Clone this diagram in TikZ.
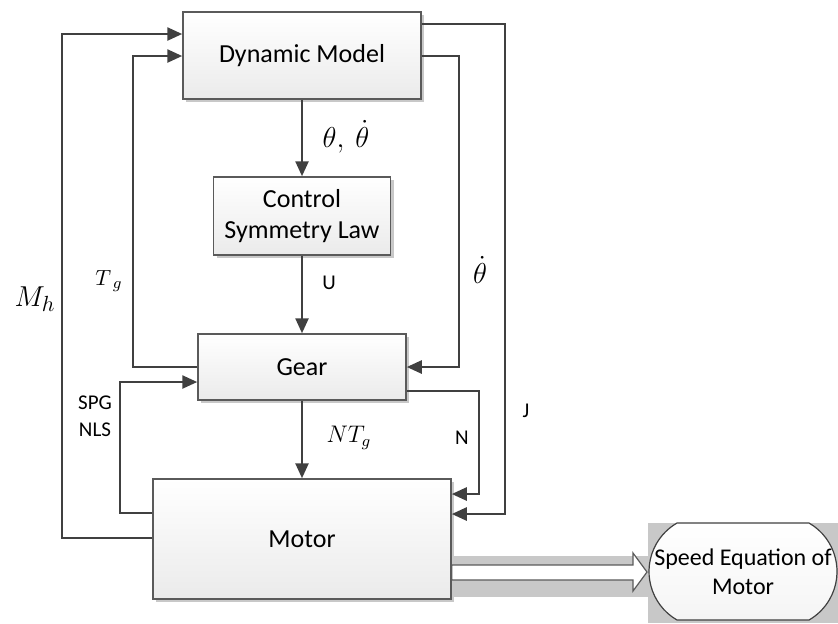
\documentclass[tikz,border=0pt]{standalone}
\usepackage{fontspec}
\setmainfont{Carlito}
\usetikzlibrary{arrows.meta,shadows,shapes.misc}

\definecolor{linegray}{HTML}{404040}
\definecolor{boxline}{HTML}{5A5A5A}
\definecolor{shadegray}{HTML}{C8C8C8}

\tikzset{
  block/.style={draw=boxline,line width=0.75pt,top color=white,bottom color=black!8,
    drop shadow={shadow xshift=1.5pt,shadow yshift=-1.5pt,fill=shadegray,opacity=1},
    inner sep=0pt,align=center,font=\fontsize{13}{15.5}\selectfont},
  flow/.style={draw=linegray,line width=1.25pt,-{Triangle[length=7.5pt,width=6.5pt]}},
  lbl/.style={font=\fontsize{10.5}{12.5}\selectfont,inner sep=0pt},
  mlbl/.style={font=\fontsize{14}{16}\selectfont,inner sep=1pt},
}

\begin{document}
\begin{tikzpicture}[x=0.5pt,y=-0.5pt]
  \useasboundingbox (0,0) rectangle (838,623);
  \node [block,minimum width=119pt,minimum height=43.5pt] (dm) at (302,55.5) {Dynamic Model};
  \node [block,minimum width=88.5pt,minimum height=39pt] (law) at (302,216) {Control\\Symmetry Law};
  \node [block,minimum width=104pt,minimum height=33pt] (gear) at (302,367) {Gear};
  \node [block,minimum width=149pt,minimum height=60pt] (motor) at (302,539) {Motor};

  \draw [flow] (dm) -- (law);
  \draw [flow] (law) -- (gear);
  \draw [flow] (gear) -- (motor);

  \draw [flow] (motor.west |- 0,538) -| (62,34) -- (dm.west |- 0,34);
  \draw [flow] (gear.west) -| (133,56) -- (dm.west |- 0,56);
  \draw [flow] (motor.west |- 0,513) -| (120,382) -- (gear.west |- 0,382);
  \draw [flow] (dm.east |- 0,56) -| (459,367) -- (gear.east);
  \draw [flow] (gear.east |- 0,391) -| (479,494) -- (motor.east |- 0,494);
  \draw [flow] (dm.east |- 0,24) -| (505,514) -- (motor.east |- 0,514);

  \node [mlbl] (thlbl) at (346,137) {$\theta,\ \dot{\theta}$};
  \node [lbl] (ulbl) at (329,283) {U};
  \node [mlbl,font=\fontsize{15}{17}\selectfont] (mhlbl) at (35,299) {$M_h$};
  \node [mlbl,font=\fontsize{11}{13}\selectfont] (tglbl) at (109,281) {$T_{\;g}$};
  \node [mlbl] (thdlbl) at (480,270) {$\dot{\theta}$};
  \node [lbl,align=center] (spglbl) at (95,416) {SPG\\[1pt]NLS};
  \node [mlbl,font=\fontsize{12}{14}\selectfont] (ntglbl) at (349,438) {$NT_g$};
  \node [lbl] (nlbl) at (462,438) {N};
  \node [lbl] (jlbl) at (526,411) {J};

  \fill [shadegray] (motor.east |- 0,556) rectangle (648,597);
  \draw [draw=boxline,line width=0.6pt,fill=white]
    (motor.east |- 0,565) -- (633,565) -- (633,553) -- (647,572)
    -- (633,591) -- (633,580) -- (motor.east |- 0,580) -- cycle;

  \fill [shadegray] (648,523) rectangle (838,623);
  \node [rounded rectangle,rounded rectangle arc length=120,draw=black!75,line width=0.6pt,
    top color=white,bottom color=black!4,minimum width=94pt,minimum height=48.5pt,
    inner sep=0pt,align=center,font=\fontsize{12}{14.5}\selectfont] (speq) at (743,571.5)
    {Speed Equation of\\Motor};
\end{tikzpicture}
\end{document}
